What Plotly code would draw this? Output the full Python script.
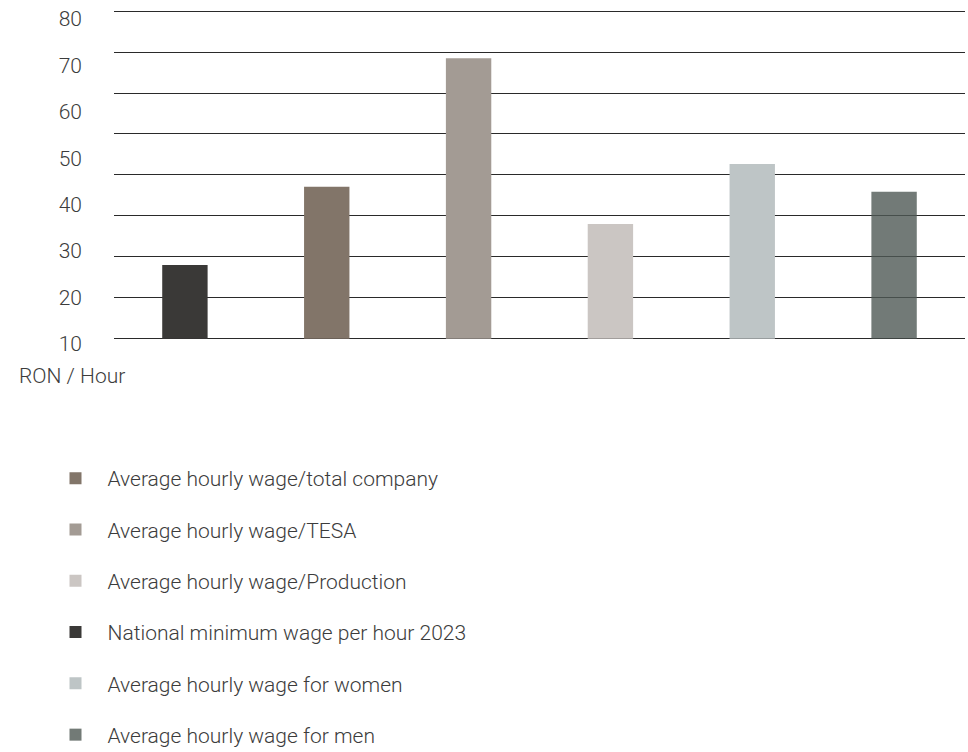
import plotly.graph_objects as go

# Categories in the order they appear along the x axis
x_order = [
    "National minimum wage per hour 2023",
    "Average hourly wage/total company",
    "Average hourly wage/TESA",
    "Average hourly wage/Production",
    "Average hourly wage for women",
    "Average hourly wage for men",
]

# Series in legend order (RON per hour)
series_names = [
    "Average hourly wage/total company",
    "Average hourly wage/TESA",
    "Average hourly wage/Production",
    "National minimum wage per hour 2023",
    "Average hourly wage for women",
    "Average hourly wage for men",
]
series_values = [37.1, 68.5, 28.0, 18.0, 42.7, 35.9]
series_colors = ["#827569", "#a39b94", "#cbc6c3", "#3a3937", "#bec5c6", "rgb(79,89,85)"]
series_opacity = [1, 1, 1, 1, 1, 0.8]

# Axis labels shown at the left
tick_labels = [10, 20, 30, 40, 50, 60, 70, 80]

FONT = "Roboto"
TEXT_COLOR = "#3c3c3c"
FS = 21

# plot area in pixels
PL, PR, PT, PB = 114, 965, 9, 345
PW, PH = PR - PL, PB - PT

fig = go.Figure()
for i, (name, val, col, op) in enumerate(zip(series_names, series_values, series_colors, series_opacity)):
    fig.add_trace(go.Bar(
        x=[name], y=[val], name=name,
        marker=dict(color=col, line=dict(width=0)),
        opacity=op, width=0.32,
        legendgroup=f"g{i}",
        hoverinfo="x+y",
    ))

# Invisible helper trace that carries the label axis
fig.add_trace(go.Scatter(
    x=[x_order[0]], y=[tick_labels[0]], yaxis="y2", mode="markers",
    marker=dict(opacity=0), showlegend=False, hoverinfo="skip",
))

fig.update_layout(
    width=968, height=752,
    margin=dict(l=PL, r=968 - PR, t=PT, b=752 - PB, autoexpand=False),
    paper_bgcolor="white", plot_bgcolor="white",
    barmode="overlay",
    font=dict(family=FONT, size=FS, color=TEXT_COLOR, weight=300),
    xaxis=dict(
        type="category", categoryorder="array", categoryarray=x_order,
        showticklabels=False, showgrid=False, zeroline=False, showline=False,
        ticks="",
    ),
    yaxis=dict(
        range=[-1.5, 80.5], tick0=0, dtick=10,
        showticklabels=False, showgrid=True, gridcolor="#2a2a2a", gridwidth=1.4,
        zeroline=False, showline=False, ticks="",
    ),
    yaxis2=dict(
        overlaying="y", side="left", range=[9.785, 82.154],
        tickmode="array", tickvals=tick_labels, ticktext=[str(t) for t in tick_labels],
        showgrid=False, zeroline=False, showline=False, ticks="",
        ticklabelstandoff=31,
        tickfont=dict(family=FONT, size=FS, color=TEXT_COLOR, weight=300),
    ),
    legend=dict(
        x=(43.5 - PL) / PW, xanchor="left", y=(PB - 458) / PH, yanchor="top",
        traceorder="grouped", tracegroupgap=21,
        font=dict(family=FONT, size=FS, color=TEXT_COLOR, weight=300),
        itemwidth=54, bgcolor="rgba(0,0,0,0)",
    ),
    showlegend=True,
    annotations=[dict(
        text="RON / Hour", xref="paper", yref="paper",
        x=(17 - PL) / PW, xanchor="left", y=(PB - 375.5) / PH, yanchor="middle",
        showarrow=False, font=dict(family=FONT, size=FS, color=TEXT_COLOR, weight=300),
    )],
)

fig.write_html("out.html")
